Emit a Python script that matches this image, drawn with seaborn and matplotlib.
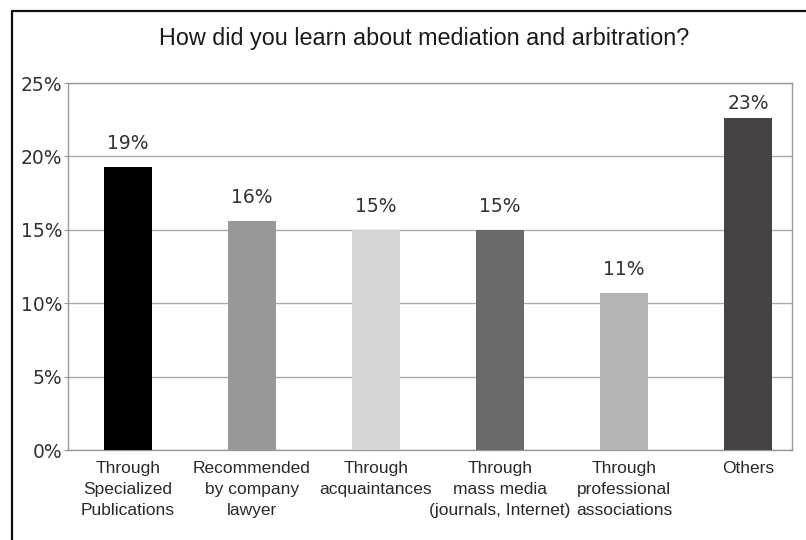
import matplotlib
matplotlib.use("Agg")
import matplotlib.pyplot as plt
import seaborn as sns
import pandas as pd
from matplotlib.lines import Line2D

categories = [
    "Through\nSpecialized\nPublications",
    "Recommended\nby company\nlawyer",
    "Through\nacquaintances",
    "Through\nmass media\n(journals, Internet)",
    "Through\nprofessional\nassociations",
    "Others",
]
shares = [19.3, 15.6, 15.0, 15.0, 10.7, 22.6]
bar_colors = ["#000000", "#989898", "#d5d5d5", "#6a6a6a", "#b4b4b4", "#474344"]
y_ticks = [0, 5, 10, 15, 20, 25]

df = pd.DataFrame({"source": categories, "share": shares})

sns.set_theme(style="white")
plt.rcParams["font.family"] = ["DejaVu Sans"]

fig = plt.figure(figsize=(8.06, 5.40), dpi=100)
ax = fig.add_axes([68 / 806, 1 - 450 / 540, (792 - 68) / 806, (450 - 83) / 540])

sns.barplot(data=df, x="source", y="share", hue="source", palette=bar_colors,
            legend=False, width=0.38, saturation=1, linewidth=0, ax=ax, zorder=3)

ax.set_ylim(0, 25)
ax.set_xlim(-0.484, 5.355)
ax.set_yticks(y_ticks)
ax.set_yticklabels([f"{t}%" for t in y_ticks], fontsize=13.5, color="#333333")
ax.tick_params(axis="y", length=3, width=0.8, color="#999999", pad=1, left=True)
ax.tick_params(axis="x", length=0, pad=8)
ax.set_xticks(range(len(categories)))
ax.set_xticklabels(categories, fontsize=12.5, family="Liberation Sans",
                   color="#2a2a2a", linespacing=1.48)
ax.set_xlabel("")
ax.set_ylabel("")
ax.yaxis.grid(True, color="#aaaaaa", linewidth=1.0, zorder=0)
ax.set_axisbelow(True)
for s in ax.spines.values():
    s.set_color("#999999")
    s.set_linewidth(1.0)

# value labels above each bar, kept inside the plot area
for i, v in enumerate(shares):
    ax.text(i, min(v + 1.6, 23.6), f"{v:.0f}%", ha="center", va="center",
            fontsize=13.5, color="#333333")

fig.text(424 / 806, 1 - 38 / 540, "How did you learn about mediation and arbitration?",
         ha="center", va="center", fontsize=16.8, family="Liberation Sans", color="#1a1a1a")

# outer frame (left and top edges)
fig.add_artist(Line2D([12 / 806, 12 / 806], [0, 1 - 11 / 540],
                      transform=fig.transFigure, color="#111111", linewidth=1.6))
fig.add_artist(Line2D([12 / 806, 1], [1 - 11 / 540, 1 - 11 / 540],
                      transform=fig.transFigure, color="#111111", linewidth=1.6))

fig.savefig("out.png", dpi=100, facecolor="white")
